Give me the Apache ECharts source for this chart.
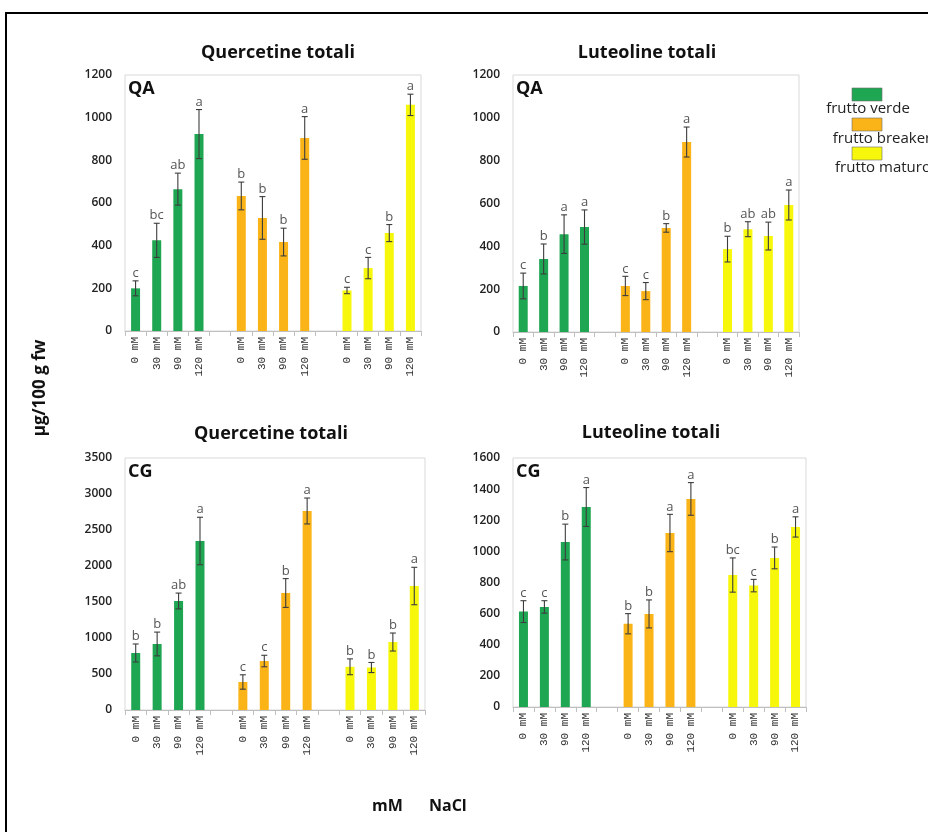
<!DOCTYPE html>
<html>
<head>
<meta charset="utf-8">
<script src="https://cdn.jsdelivr.net/npm/echarts@6/dist/echarts.min.js"></script>
<style>
  html, body { margin: 0; padding: 0; background: #fff; }
  #chart { width: 928px; height: 832px; }
</style>
</head>
<body>
<div id="chart"></div>
<script>
// NaCl treatments shown under every group of bars
const concLabels = ['0 mM', '30 mM', '90 mM', '120 mM'];
// Ripening stages (one colour each)
const stages = ['frutto verde', 'frutto breaker', 'frutto maturo'];
const stageColors = ['#1fa652', '#fbb417', '#f7f70c'];

// QA – Quercetine totali (µg/100 g fw): rows = stages, cols = NaCl
const qaQuerMean = [[200, 425, 665, 923], [633, 530, 417, 905], [190, 295, 459, 1060]];
const qaQuerErr  = [[35, 80, 75, 115], [65, 100, 65, 100], [15, 50, 40, 50]];
const qaQuerSig  = [['c', 'bc', 'ab', 'a'], ['b', 'b', 'b', 'a'], ['c', 'c', 'b', 'a']];

// QA – Luteoline totali
const qaLuteMean = [[215, 341, 457, 490], [215, 191, 486, 887], [387, 480, 448, 593]];
const qaLuteErr  = [[60, 70, 90, 80], [45, 40, 20, 70], [60, 35, 65, 70]];
const qaLuteSig  = [['c', 'b', 'a', 'a'], ['c', 'c', 'b', 'a'], ['b', 'ab', 'ab', 'a']];

// CG – Quercetine totali
const cgQuerMean = [[792, 917, 1514, 2347], [389, 680, 1625, 2764], [600, 590, 944, 1722]];
const cgQuerErr  = [[125, 165, 110, 330], [100, 80, 200, 180], [110, 70, 125, 260]];
const cgQuerSig  = [['b', 'b', 'ab', 'a'], ['c', 'c', 'b', 'a'], ['b', 'b', 'b', 'a']];

// CG – Luteoline totali
const cgLuteMean = [[613, 643, 1060, 1285], [535, 598, 1118, 1337], [848, 780, 958, 1157]];
const cgLuteErr  = [[70, 40, 115, 125], [65, 90, 120, 105], [110, 40, 70, 65]];
const cgLuteSig  = [['c', 'c', 'b', 'a'], ['b', 'b', 'a', 'a'], ['bc', 'c', 'b', 'a']];

// Y axis ranges
const yMax = [1200, 1200, 3500, 1600];
const yStep = [200, 200, 500, 200];

const panels = [
  { title: 'Quercetine totali', tag: 'QA', mean: qaQuerMean, err: qaQuerErr, sig: qaQuerSig,
    grid: { left: 125, top: 75, width: 296, height: 256 }, titleX: 278, titleY: 53 },
  { title: 'Luteoline totali', tag: 'QA', mean: qaLuteMean, err: qaLuteErr, sig: qaLuteSig,
    grid: { left: 513, top: 75, width: 286, height: 257 }, titleX: 647, titleY: 53 },
  { title: 'Quercetine totali', tag: 'CG', mean: cgQuerMean, err: cgQuerErr, sig: cgQuerSig,
    grid: { left: 125, top: 458, width: 300, height: 252 }, titleX: 271, titleY: 434 },
  { title: 'Luteoline totali', tag: 'CG', mean: cgLuteMean, err: cgLuteErr, sig: cgLuteSig,
    grid: { left: 513, top: 458, width: 293, height: 249 }, titleX: 651, titleY: 433 }
];

// Category slots: 4 bars per stage with an empty slot between stages
const slotsPerStage = concLabels.length + 1;
const nSlots = stages.length * slotsPerStage - 1;
const xData = [];
for (let s = 0; s < stages.length; s++) {
  concLabels.forEach(l => xData.push(l));
  if (s < stages.length - 1) xData.push('');
}

const grids = [], xAxes = [], yAxes = [], series = [], graphics = [];

panels.forEach((p, pi) => {
  grids.push(Object.assign({ show: true, borderColor: '#d9d9d9', borderWidth: 1, backgroundColor: 'transparent' }, p.grid));
  xAxes.push({
    type: 'category', gridIndex: pi, data: xData,
    axisLine: { lineStyle: { color: '#bfbfbf' } },
    axisTick: { show: true, interval: 0, length: 5, lineStyle: { color: '#bfbfbf' } },
    axisLabel: { interval: 0, rotate: 90, margin: 6, fontFamily: 'Liberation Mono', fontSize: 11, color: '#333' }
  });
  yAxes.push({
    type: 'value', gridIndex: pi, min: 0, max: yMax[pi], interval: yStep[pi],
    axisLine: { show: false }, axisTick: { show: false }, splitLine: { show: false },
    axisLabel: { margin: 13, fontFamily: 'Open Sans', fontWeight: 600, fontSize: 12, color: '#222',
                 formatter: v => String(v) }
  });

  // one bar series per ripening stage, bars overlapping the same slot
  stages.forEach((st, s) => {
    const data = new Array(nSlots).fill('-');
    p.mean[s].forEach((v, c) => { data[s * slotsPerStage + c] = v; });
    series.push({
      type: 'bar', name: st, xAxisIndex: pi, yAxisIndex: pi, data: data,
      barWidth: 9, barGap: '-100%', itemStyle: { color: stageColors[s] }, z: 2
    });
  });

  // error bars with significance letters
  const ebData = [], letters = [];
  stages.forEach((st, s) => {
    p.mean[s].forEach((v, c) => {
      ebData.push([s * slotsPerStage + c, v, p.err[s][c]]);
      letters.push(p.sig[s][c]);
    });
  });
  series.push({
    type: 'custom', xAxisIndex: pi, yAxisIndex: pi, data: ebData, z: 5, clip: false,
    renderItem: function (params, api) {
      const x = api.value(0), m = api.value(1), e = api.value(2);
      const top = api.coord([x, m + e]);
      const bot = api.coord([x, m - e]);
      const cw = 3;
      const stroke = { stroke: '#3d3d3d', lineWidth: 1.1 };
      return {
        type: 'group',
        children: [
          { type: 'line', shape: { x1: top[0], y1: top[1], x2: bot[0], y2: bot[1] }, style: stroke },
          { type: 'line', shape: { x1: top[0] - cw, y1: top[1], x2: top[0] + cw, y2: top[1] }, style: stroke },
          { type: 'line', shape: { x1: bot[0] - cw, y1: bot[1], x2: bot[0] + cw, y2: bot[1] }, style: stroke },
          { type: 'text', x: top[0], y: top[1] - 1,
            style: { text: letters[params.dataIndex], fill: '#555', font: '13px "Open Sans"',
                     textAlign: 'center', textVerticalAlign: 'bottom' } }
        ]
      };
    }
  });

  // panel title and site tag
  graphics.push({ type: 'text', x: p.titleX, y: p.titleY, z: 10,
    style: { text: p.title, font: 'bold 18px "Open Sans"', fill: '#111', textAlign: 'center', textVerticalAlign: 'middle' } });
  graphics.push({ type: 'text', x: p.grid.left + 3, y: p.grid.top + 14, z: 10,
    style: { text: p.tag, font: 'bold 18px "Open Sans"', fill: '#111', textAlign: 'left', textVerticalAlign: 'middle' } });
});

// outer frame
graphics.push({ type: 'rect', z: 0, shape: { x: 6, y: 13, width: 960, height: 900 },
  style: { fill: 'none', stroke: '#000', lineWidth: 2 } });

// axis titles
graphics.push({ type: 'text', x: 40, y: 388, rotation: Math.PI / 2, z: 10,
  style: { text: 'µg/100 g fw', font: 'bold 17px "Open Sans"', fill: '#111', textAlign: 'center', textVerticalAlign: 'middle' } });
graphics.push({ type: 'text', x: 372, y: 806, z: 10,
  style: { text: 'mM', font: 'bold 16px "Open Sans"', fill: '#111', textAlign: 'left', textVerticalAlign: 'middle' } });
graphics.push({ type: 'text', x: 429, y: 806, z: 10,
  style: { text: 'NaCl', font: 'bold 16px "Open Sans"', fill: '#111', textAlign: 'left', textVerticalAlign: 'middle' } });

// legend: swatch above each stage name
const legendTop = [88, 118, 147];
const legendTextX = [868, 882, 883];
stages.forEach((st, s) => {
  graphics.push({ type: 'rect', z: 10, shape: { x: 852, y: legendTop[s], width: 30, height: 13 },
    style: { fill: stageColors[s], stroke: '#6b6b6b', lineWidth: 0.6 } });
  graphics.push({ type: 'text', x: legendTextX[s], y: legendTop[s] + 21, z: 10,
    style: { text: st, font: '15px "Open Sans"', fill: '#222', textAlign: 'center', textVerticalAlign: 'middle' } });
});

const chart = echarts.init(document.getElementById('chart'), null, { renderer: 'canvas' });
chart.setOption({
  animation: false,
  backgroundColor: '#fff',
  grid: grids, xAxis: xAxes, yAxis: yAxes, series: series, graphic: graphics
});
</script>
</body>
</html>
